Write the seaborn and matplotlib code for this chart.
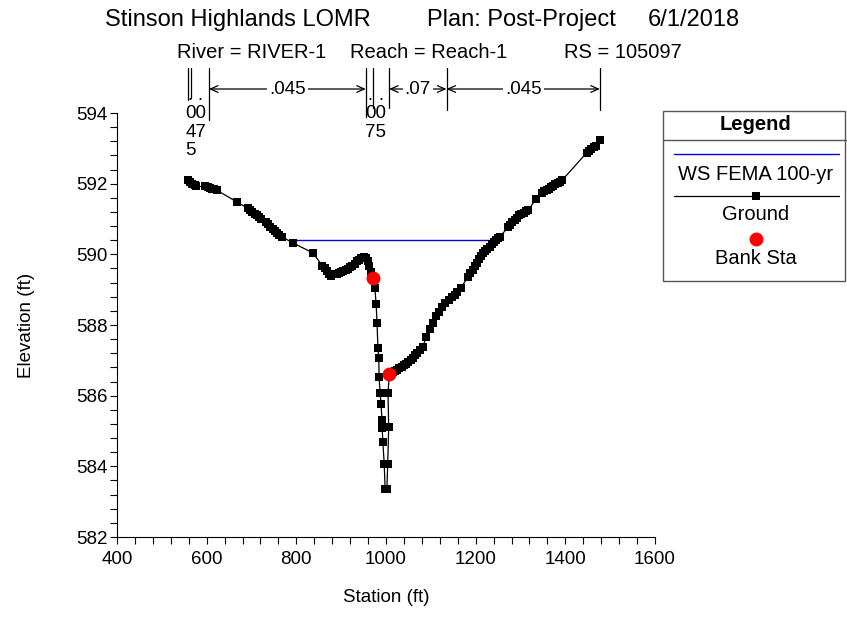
import matplotlib
matplotlib.use("Agg")
import matplotlib.pyplot as plt
import matplotlib.transforms as mtransforms
import seaborn as sns
import pandas as pd
from matplotlib.patches import Rectangle
from matplotlib.lines import Line2D
from matplotlib.ticker import MultipleLocator

# ---------------- data ----------------
title_parts = ["Stinson Highlands LOMR", "Plan: Post-Project", "6/1/2018"]
subtitle_parts = ["River = RIVER-1", "Reach = Reach-1", "RS = 105097"]

ground_station = [
    558, 563, 568, 573, 576,
    597, 602, 607, 612, 617, 622,
    668,
    692, 697, 702, 707, 712, 717, 722,
    732, 737, 742, 747, 752, 757, 762, 767,
    793, 837,
    858, 863, 868, 873, 878,
    890, 895, 900, 905, 910, 915, 920, 925, 930, 935, 940, 945, 950, 955, 959, 963, 967,
    971.7,
    975, 978, 980, 982, 984, 984.5, 987, 989, 991, 991.5, 993, 996, 998,
    1002, 1003.8, 1006, 1004.5,
    1007.4,
    1010, 1015, 1020, 1025, 1030, 1035, 1040, 1045, 1050, 1055, 1060, 1065, 1070, 1076,
    1082, 1090, 1098, 1105, 1112, 1118, 1125, 1132, 1140, 1147, 1153, 1158,
    1167,
    1183, 1188, 1193, 1198, 1203, 1208, 1212, 1216,
    1221, 1226, 1231, 1236, 1241, 1246, 1250, 1254,
    1272, 1277, 1282, 1287, 1292, 1297, 1302, 1307, 1312, 1317,
    1335,
    1348, 1353, 1358, 1363, 1368, 1373, 1378, 1383, 1388, 1393,
    1448, 1453, 1458, 1463, 1468, 1477,
]
ground_elev = [
    592.10, 592.05, 592.00, 591.95, 591.92,
    591.92, 591.90, 591.88, 591.86, 591.84, 591.82,
    591.48,
    591.30, 591.25, 591.20, 591.15, 591.10, 591.05, 591.00,
    590.92, 590.85, 590.78, 590.72, 590.66, 590.60, 590.55, 590.50,
    590.32, 590.04,
    589.68, 589.60, 589.52, 589.45, 589.40,
    589.45, 589.47, 589.50, 589.52, 589.55, 589.58, 589.63, 589.68, 589.74, 589.80, 589.85, 589.90, 589.92, 589.90, 589.82, 589.68, 589.50,
    589.33,
    589.05, 588.60, 588.06, 587.35, 587.07, 586.53, 586.07, 585.76, 585.31, 585.08, 584.69, 584.07, 583.37,
    583.37, 584.07, 585.10, 586.07,
    586.60,
    586.62, 586.66, 586.70, 586.74, 586.78, 586.82, 586.86, 586.90, 586.95, 587.00, 587.07, 587.14, 587.20, 587.28,
    587.39, 587.65, 587.88, 588.07, 588.25, 588.38, 588.50, 588.62, 588.72, 588.79, 588.86, 588.93,
    589.05,
    589.36, 589.46, 589.56, 589.66, 589.76, 589.86, 589.95, 590.04,
    590.10, 590.16, 590.22, 590.28, 590.34, 590.40, 590.45, 590.49,
    590.77, 590.84, 590.91, 590.98, 591.04, 591.10, 591.14, 591.18, 591.22, 591.25,
    591.57,
    591.74, 591.78, 591.82, 591.86, 591.90, 591.94, 591.98, 592.02, 592.06, 592.10,
    592.88, 592.93, 592.98, 593.03, 593.08, 593.25,
]

ws_station = [791, 1253]
ws_elev = [590.41, 590.41]

bank_station = [971.7, 1007.4]
bank_elev = [589.33, 586.60]

# Manning's n break stations and labels of the segments between them
n_break_station = [559, 565, 605, 955, 972, 1007, 1135, 1477]
n_segment_label = [".", ".", ".045", ".", ".", ".07", ".045"]

x_ticks = [400, 600, 800, 1000, 1200, 1400, 1600]
y_ticks = [582, 584, 586, 588, 590, 592, 594]

# ---------------- style ----------------
sns.set_theme(style="ticks")
plt.rcParams['font.family'] = ['Liberation Sans', 'DejaVu Sans']

W, H = 847, 618
def fy(py):
    return 1 - py / H
def fx(px):
    return px / W

MS = 6.4

fig = plt.figure(figsize=(W / 100, H / 100), dpi=100)
fig.patch.set_facecolor("white")
ax = fig.add_axes([fx(117), fy(537), 538 / W, 424 / H])
ax.set_facecolor("white")

ground_df = pd.DataFrame({"Station": ground_station, "Elevation": ground_elev})
ws_df = pd.DataFrame({"Station": ws_station, "Elevation": ws_elev})
bank_df = pd.DataFrame({"Station": bank_station, "Elevation": bank_elev})

sns.lineplot(data=ws_df, x="Station", y="Elevation", ax=ax, color="#0000ee",
             linewidth=1.0, sort=False, estimator=None, zorder=2)
sns.lineplot(data=ground_df, x="Station", y="Elevation", ax=ax, color="black",
             linewidth=0.9, sort=False, estimator=None, marker="s",
             markersize=MS, markeredgewidth=0, zorder=3)
sns.scatterplot(data=bank_df, x="Station", y="Elevation", ax=ax, color="#ff0000",
                s=100, linewidth=0, zorder=4)

ax.set_xlim(400, 1600)
ax.set_ylim(582, 594)
ax.set_xticks(x_ticks)
ax.set_yticks(y_ticks)
ax.xaxis.set_minor_locator(MultipleLocator(40))
ax.yaxis.set_minor_locator(MultipleLocator(0.4))
ax.tick_params(which="both", direction="out", length=5, width=0.8, color="black",
               labelsize=13.5, labelcolor="black")
ax.tick_params(axis="x", which="both", pad=5)
ax.tick_params(axis="y", which="both", pad=2)
for s in ["top", "right"]:
    ax.spines[s].set_visible(False)
for s in ["left", "bottom"]:
    ax.spines[s].set_color("black")
    ax.spines[s].set_linewidth(0.8)

ax.set_xlabel("Station (ft)", fontsize=13.5, color="black")
ax.set_ylabel("Elevation (ft)", fontsize=13.5, color="black")
ax.xaxis.set_label_coords(0.5, (537 - 589) / 424)
ax.yaxis.set_label_coords((27 - 117) / 538, 0.5)
ax.yaxis.label.set_va("center")

# ---------------- titles ----------------
for txt, px in zip(title_parts, [105, 427, 648]):
    fig.text(fx(px), fy(20), txt, ha="left", va="center", fontsize=17, color="black")
for txt, px in zip(subtitle_parts, [177, 350, 564]):
    fig.text(fx(px), fy(53), txt, ha="left", va="center", fontsize=14.5, color="black")

# ---------------- Manning's n annotation row ----------------
blend = mtransforms.blended_transform_factory(ax.transData, fig.transFigure)
line_bottoms = [100, 98, 120, 117, 108, 108, 110, 110]
for st, pb in zip(n_break_station, line_bottoms):
    ax.add_line(Line2D([st, st], [fy(68), fy(pb)], color="black", linewidth=0.9,
                       transform=blend, clip_on=False))

for i, lab in enumerate(n_segment_label):
    a, b = n_break_station[i], n_break_station[i + 1]
    mid = (a + b) / 2
    if lab == ".":
        ax.text(mid, fy(96), ".", transform=blend, ha="center", va="center",
                fontsize=13, color="black", clip_on=False)
    else:
        ax.annotate("", xy=(b, fy(89)), xytext=(a, fy(89)),
                    xycoords=blend, textcoords=blend,
                    arrowprops=dict(arrowstyle="<->,head_length=0.45,head_width=0.2",
                                    color="black", lw=0.9, shrinkA=0, shrinkB=0))
        ax.text(mid, fy(89), lab, transform=blend, ha="center", va="center",
                fontsize=13.5, color="black", clip_on=False,
                bbox=dict(facecolor="white", edgecolor="none", pad=1.5))

ax.text(n_break_station[0] - 7, fy(105), "00\n47\n5", transform=blend, ha="left", va="top",
        fontsize=13.5, color="black", linespacing=1.12, clip_on=False)
ax.text(n_break_station[3] - 2, fy(105), "00\n75", transform=blend, ha="left", va="top",
        fontsize=13.5, color="black", linespacing=1.12, clip_on=False)

# ---------------- legend box ----------------
fig.patches.append(Rectangle((fx(663), fy(281)), (845 - 663) / W, (281 - 111) / H,
                             transform=fig.transFigure, facecolor="white",
                             edgecolor="#555555", linewidth=1.0))
fig.lines.append(Line2D([fx(663), fx(846)], [fy(140), fy(140)], transform=fig.transFigure,
                        color="#555555", linewidth=1.0))
fig.text(fx(755), fy(125), "Legend", ha="center", va="center", fontsize=14.5,
         fontweight="bold", color="black")
fig.lines.append(Line2D([fx(674), fx(839)], [fy(154), fy(154)], transform=fig.transFigure,
                        color="#0000ee", linewidth=1.0))
fig.text(fx(756), fy(175), "WS FEMA 100-yr", ha="center", va="center", fontsize=14.5, color="black")
fig.lines.append(Line2D([fx(674), fx(839)], [fy(196), fy(196)], transform=fig.transFigure,
                        color="black", linewidth=0.9))
fig.lines.append(Line2D([fx(756)], [fy(196)], transform=fig.transFigure, color="black",
                        marker="s", markersize=MS, markeredgewidth=0, linestyle="none"))
fig.text(fx(756), fy(215), "Ground", ha="center", va="center", fontsize=14.5, color="black")
fig.lines.append(Line2D([fx(756)], [fy(239)], transform=fig.transFigure, color="#ff0000",
                        marker="o", markersize=10, markeredgewidth=0, linestyle="none"))
fig.text(fx(756), fy(258), "Bank Sta", ha="center", va="center", fontsize=14.5, color="black")

fig.savefig("out.png", dpi=100, facecolor="white")
